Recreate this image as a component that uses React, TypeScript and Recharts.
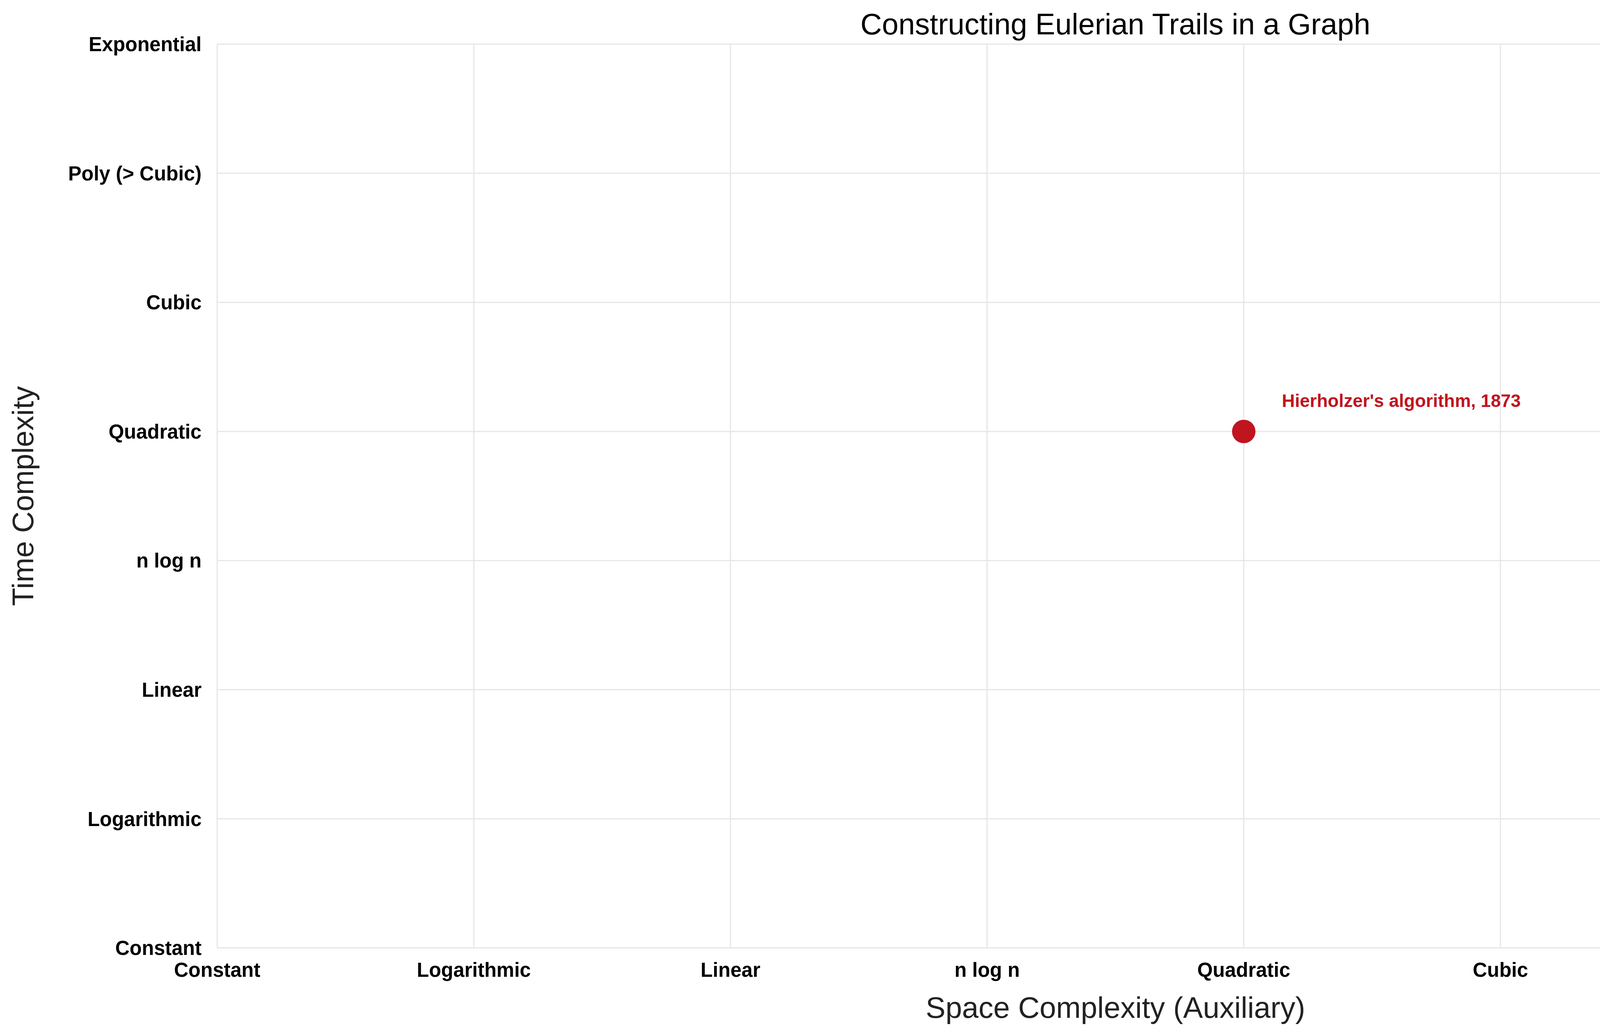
import React from "react";
import { CartesianGrid, Scatter, ScatterChart, XAxis, YAxis, LabelList } from "recharts";

const complexityLabels = [
  "Constant",
  "Logarithmic",
  "Linear",
  "n log n",
  "Quadratic",
  "Cubic",
  "Poly (> Cubic)",
  "Exponential",
];
const tickValues = [0, 1, 2, 3, 4, 5, 6, 7];

const algorithms = [{ name: "Hierholzer's algorithm, 1873", space: 4, time: 4 }];

const W = 5353;
const H = 2650;
const RED = "#c0141f";
const FONT = "Arial, 'Liberation Sans', Helvetica, sans-serif";

const tickStyle = { fontSize: 51, fontWeight: 700, fill: "#000", fontFamily: FONT };

function PointLabel(props: any) {
  const { x, y, value } = props;
  return (
    <text x={x + 102} y={y - 58} fill={RED} fontSize={46} fontWeight={700} fontFamily={FONT}>
      {value}
    </text>
  );
}

export default function App() {
  return (
    <div style={{ position: "absolute", left: 0, top: 0, width: W, height: H, background: "#fff" }}>
      <div
        style={{
          position: "absolute",
          left: 0,
          width: 5711,
          top: 18,
          textAlign: "center",
          fontFamily: FONT,
          fontSize: 76,
          color: "#000",
        }}
      >
        Constructing Eulerian Trails in a Graph
      </div>
      <ScatterChart width={W} height={H} margin={{ top: 113, right: 198, bottom: 0, left: 0 }}>
        <CartesianGrid stroke="#e6e6e6" strokeWidth={3} />
        <XAxis
          type="number"
          dataKey="space"
          domain={[0, 7]}
          ticks={tickValues}
          interval={0}
          height={223}
          axisLine={false}
          tickLine={false}
          tickSize={0}
          tickMargin={38}
          tick={tickStyle}
          tickFormatter={(v: number) => complexityLabels[v]}
          label={{
            value: "Space Complexity (Auxiliary)",
            position: "insideBottom",
            offset: 44,
            style: { fontSize: 76, fill: "#222", fontFamily: FONT },
          }}
        />
        <YAxis
          type="number"
          dataKey="time"
          domain={[0, 7]}
          ticks={tickValues}
          interval={0}
          width={556}
          axisLine={false}
          tickLine={false}
          tickSize={0}
          tickMargin={40}
          tick={tickStyle}
          tickFormatter={(v: number) => complexityLabels[v]}
          label={{
            value: "Time Complexity",
            angle: -90,
            position: "insideLeft",
            offset: 58,
            style: { fontSize: 76, fill: "#222", fontFamily: FONT, textAnchor: "middle" },
          }}
        />
        <Scatter
          data={algorithms}
          fill={RED}
          isAnimationActive={false}
          shape={(p: any) => <circle cx={p.cx} cy={p.cy} r={30} fill={RED} />}
        >
          <LabelList dataKey="name" content={PointLabel} />
        </Scatter>
      </ScatterChart>
    </div>
  );
}
